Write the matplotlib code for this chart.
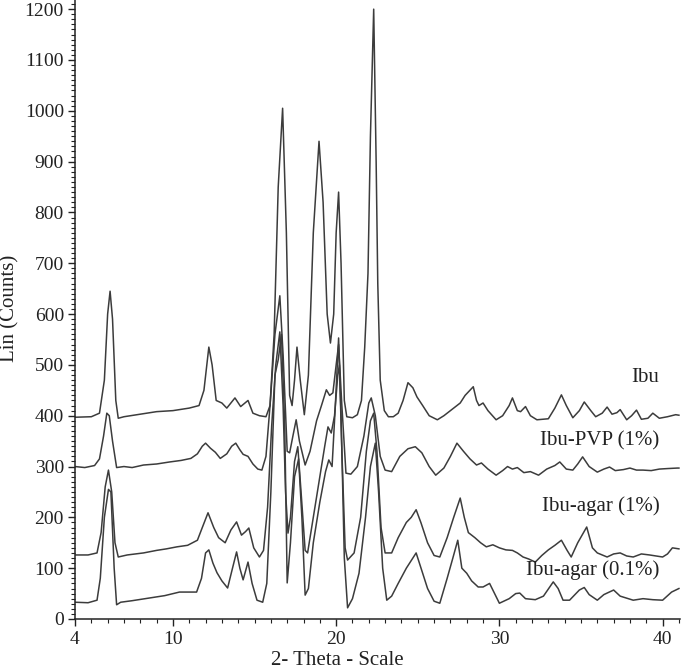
import matplotlib
matplotlib.use("Agg")
import matplotlib.pyplot as plt
from matplotlib.ticker import MultipleLocator, FixedLocator

# 2-theta / counts, one pair of lists per sample
ibu_theta = [4.0, 5.0, 5.5, 5.8, 6.0, 6.15, 6.3, 6.5, 6.65, 7.0, 8.0, 9.0, 10.0, 11.0, 11.6, 11.9,
             12.2, 12.4, 12.65, 13.0, 13.3, 13.8, 14.15, 14.6, 14.9, 15.3, 15.7, 15.95, 16.2, 16.45,
             16.72, 16.95, 17.15, 17.3, 17.45, 17.6, 17.8, 18.05, 18.3, 18.6, 18.95, 19.2, 19.45,
             19.65, 19.85, 20.0, 20.15, 20.3, 20.5, 20.65, 21.0, 21.3, 21.55, 21.75, 21.95, 22.1,
             22.3, 22.45, 22.55, 22.7, 22.95, 23.2, 23.5, 23.8, 24.1, 24.4, 24.7, 24.95, 25.3, 25.7,
             26.2, 26.6, 27.2, 27.6, 27.9, 28.4, 28.6, 28.75, 29.0, 29.3, 29.8, 30.2, 30.6, 30.8,
             31.1, 31.3, 31.6, 31.9, 32.3, 33.0, 33.4, 33.8, 34.1, 34.5, 34.9, 35.2, 35.6, 35.9,
             36.3, 36.6, 36.9, 37.2, 37.4, 37.8, 38.1, 38.4, 38.7, 39.1, 39.4, 39.8, 40.3, 40.8, 41.0]
ibu_counts = [397, 398, 405, 470, 600, 645, 590, 430, 395, 398, 403, 408, 410, 415, 420, 450,
              535, 500, 430, 425, 415, 435, 418, 430, 405, 400, 398, 420, 560, 850,
              1005, 760, 440, 420, 470, 535, 470, 402, 480, 760, 940, 820, 600,
              543, 600, 760, 840, 700, 430, 398, 396, 402, 430, 535, 680, 950,
              1200, 900, 660, 470, 410, 398, 398, 405, 430, 465, 455, 437, 420, 400,
              392, 400, 415, 425, 440, 457, 430, 420, 425, 410, 392, 400, 420, 435,
              410, 408, 418, 400, 392, 394, 415, 441, 420, 396, 410, 427, 410, 398,
              405, 417, 403, 406, 412, 392, 400, 411, 393, 395, 405, 395, 398, 402, 401]

pvp_theta = [4.0, 4.6, 5.2, 5.5, 5.75, 5.95, 6.1, 6.3, 6.55, 7.0, 7.5, 8.2, 9.0, 9.8, 10.5, 11.1,
             11.5, 11.8, 12.0, 12.3, 12.6, 12.9, 13.3, 13.6, 13.85, 14.1, 14.3, 14.6, 14.9, 15.2,
             15.45, 15.7, 15.95, 16.25, 16.55, 16.75, 17.0, 17.15, 17.35, 17.55, 17.75, 18.1, 18.4,
             18.8, 19.1, 19.4, 19.6, 19.8, 20.0, 20.15, 20.35, 20.6, 20.9, 21.3, 21.7, 22.0, 22.15,
             22.4, 22.7, 23.0, 23.4, 23.9, 24.4, 24.85, 25.25, 25.7, 26.1, 26.6, 27.0, 27.4, 27.8,
             28.2, 28.6, 28.9, 29.3, 29.8, 30.2, 30.5, 30.8, 31.1, 31.5, 31.9, 32.4, 32.9, 33.4,
             33.7, 34.1, 34.5, 34.8, 35.1, 35.5, 36.0, 36.4, 36.75, 37.1, 37.6, 38.0, 38.4, 38.8,
             39.3, 39.8, 40.3, 40.9, 41.0]
pvp_counts = [300, 298, 302, 315, 360, 405, 400, 350, 298, 300, 298, 303, 305, 309, 312, 316,
              325, 340, 346, 336, 328, 316, 325, 340, 346, 333, 324, 320, 305, 295,
              293, 320, 420, 560, 636, 520, 330, 327, 360, 392, 350, 303, 330,
              390, 420, 451, 440, 445, 500, 540, 420, 287, 285, 300, 360, 425, 435,
              400, 320, 293, 290, 320, 335, 339, 327, 300, 283, 297, 320, 346, 330,
              315, 303, 307, 295, 283, 292, 300, 295, 298, 288, 290, 283, 295, 302,
              309, 295, 293, 305, 319, 300, 289, 295, 299, 292, 294, 297, 293, 293,
              292, 295, 296, 297, 297]

agar1_theta = [4.0, 4.8, 5.35, 5.6, 5.85, 6.05, 6.25, 6.45, 6.65, 7.2, 8.2, 9.0, 9.6, 10.25, 10.9,
               11.5, 11.8, 12.15, 12.5, 12.8, 13.2, 13.55, 13.9, 14.2, 14.45, 14.65, 14.95, 15.3,
               15.55, 15.8, 16.05, 16.3, 16.55, 16.75, 16.9, 17.05, 17.2, 17.45, 17.65, 17.85, 18.1,
               18.25, 18.6, 19.0, 19.3, 19.5, 19.7, 19.9, 20.1, 20.2, 20.35, 20.55, 20.7, 21.1, 21.5,
               21.85, 22.1, 22.3, 22.5, 22.75, 23.0, 23.4, 23.8, 24.3, 24.6, 24.9, 25.2, 25.6, 26.0,
               26.35, 26.8, 27.2, 27.6, 27.85, 28.1, 28.5, 28.85, 29.2, 29.6, 30.0, 30.4, 30.8, 31.1,
               31.45, 31.8, 32.2, 32.6, 33.0, 33.4, 33.8, 34.15, 34.4, 34.8, 35.35, 35.7, 36.0, 36.6,
               37.0, 37.4, 37.8, 38.2, 38.7, 39.2, 39.6, 40.0, 40.3, 40.6, 41.0]
agar1_counts = [126, 126, 130, 170, 260, 293, 250, 150, 122, 126, 130, 135, 138, 142, 145,
                155, 180, 209, 180, 160, 150, 175, 191, 165, 172, 179, 140, 122,
                135, 220, 380, 500, 565, 420, 250, 169, 200, 310, 339, 250, 135,
                130, 200, 280, 340, 378, 366, 400, 480, 500, 330, 140, 116, 130, 200,
                330, 390, 405, 330, 180, 130, 130, 160, 190, 200, 215, 189, 150, 125,
                122, 160, 200, 238, 200, 170, 160, 150, 142, 146, 140, 136, 135, 130,
                122, 118, 112, 125, 136, 145, 155, 135, 122, 150, 181, 140, 130, 122,
                128, 130, 124, 122, 128, 126, 124, 122, 128, 140, 138]

agar01_theta = [4.0, 4.8, 5.35, 5.55, 5.8, 6.05, 6.2, 6.4, 6.55, 6.8, 7.5, 8.5, 9.5, 10.4, 11.45,
                11.75, 12.0, 12.2, 12.45, 12.7, 13.0, 13.35, 13.65, 13.9, 14.1, 14.3, 14.6, 14.85,
                15.15, 15.5, 15.75, 16.0, 16.25, 16.45, 16.65, 16.85, 17.0, 17.2, 17.45, 17.7, 17.9,
                18.1, 18.3, 18.6, 19.0, 19.35, 19.55, 19.75, 19.95, 20.15, 20.3, 20.5, 20.7, 21.0,
                21.4, 21.8, 22.1, 22.4, 22.6, 22.85, 23.1, 23.4, 23.8, 24.3, 24.6, 24.9, 25.2, 25.6,
                26.0, 26.35, 26.8, 27.15, 27.45, 27.7, 28.0, 28.3, 28.7, 29.0, 29.4, 30.0, 30.6, 31.0,
                31.25, 31.6, 32.2, 32.7, 33.3, 33.6, 33.9, 34.3, 34.9, 35.2, 35.5, 36.0, 36.4, 37.0,
                37.4, 38.2, 38.8, 39.4, 40.0, 40.55, 41.0]
agar01_counts = [33, 32, 37, 80, 200, 255, 250, 100, 28, 33, 36, 41, 46, 53, 53,
                 80, 130, 136, 110, 91, 75, 61, 100, 132, 100, 77, 112, 70,
                 37, 33, 70, 250, 480, 510, 560, 380, 71, 150, 280, 315, 200,
                 47, 60, 150, 230, 290, 313, 300, 420, 553, 400, 120, 22, 40,
                 90, 200, 300, 346, 250, 100, 37, 45, 70, 100, 115, 130, 100, 60,
                 35, 31, 80, 120, 155, 100, 90, 75, 63, 63, 70, 31, 40, 50,
                 51, 40, 38, 45, 73, 60, 37, 37, 57, 62, 48, 37, 48, 57,
                 45, 37, 40, 38, 37, 53, 60]

sample_names = ["Ibu", "Ibu-PVP (1%)", "Ibu-agar (1%)", "Ibu-agar (0.1%)"]
label_y = [476, 350, 222, 96]

y_ticks = list(range(0, 1300, 100))
x_ticks = [4, 10, 20, 30, 40]

plt.rcParams['font.family'] = ['Liberation Serif', 'DejaVu Serif']

fig = plt.figure(figsize=(6.88, 6.71), dpi=100)
ax = fig.add_axes([0.109, 0.0775, 0.879, 0.9225])

line_color = '#3c3c3c'
for th, ct in [(ibu_theta, ibu_counts), (pvp_theta, pvp_counts),
               (agar1_theta, agar1_counts), (agar01_theta, agar01_counts)]:
    ax.plot(th, ct, color=line_color, lw=1.1, solid_joinstyle='round')

for name, ly in zip(sample_names, label_y):
    ax.text(39.8, ly, name, ha='right', va='center', fontsize=15, color='#222222')

ax.set_xlim(4, 41.05)
ax.set_ylim(0, 1218)

ax.xaxis.set_major_locator(FixedLocator(x_ticks))
ax.xaxis.set_minor_locator(MultipleLocator(1))
ax.yaxis.set_major_locator(FixedLocator(y_ticks))
ax.yaxis.set_minor_locator(MultipleLocator(10))

ax.tick_params(axis='both', which='major', direction='out', length=5, width=1.0,
               labelsize=14, colors='#222222')
ax.tick_params(axis='x', which='major', pad=4)
ax.tick_params(axis='y', which='major', pad=3)
ax.tick_params(axis='both', which='minor', direction='out', length=3, width=0.8, colors='#222222')

for s in ['top', 'right']:
    ax.spines[s].set_visible(False)
for s in ['left', 'bottom']:
    ax.spines[s].set_color('#222222')
    ax.spines[s].set_linewidth(1.1)

fig.text(10 / 688, 1 - 308 / 671, "Lin (Counts)", rotation=90, ha='center', va='center',
         fontsize=15, color='#222222')
fig.text(337 / 688, 1 - 670 / 671, "2- Theta - Scale", ha='center', va='bottom',
         fontsize=15, color='#222222')

fig.savefig("out.png", dpi=100)
